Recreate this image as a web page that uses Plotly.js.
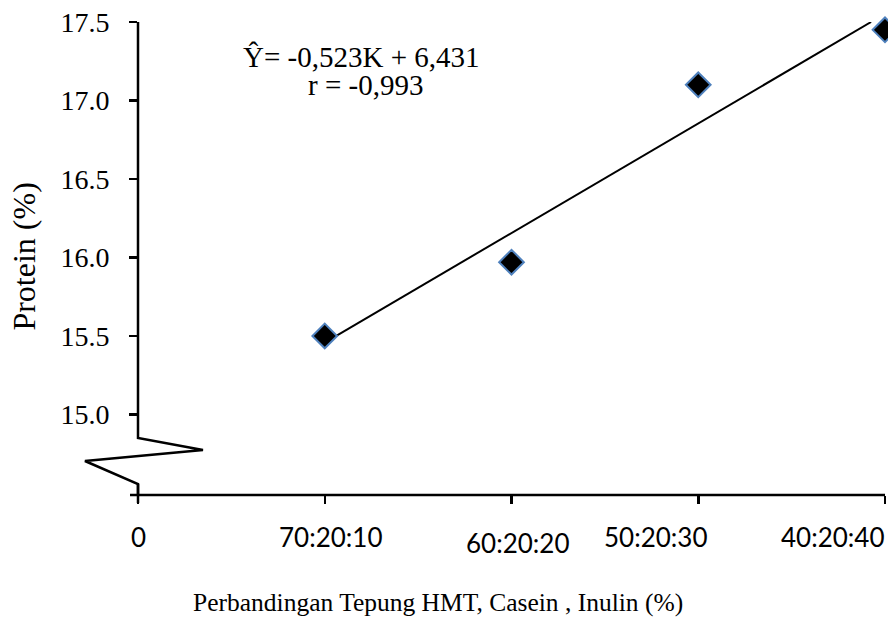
<!DOCTYPE html>
<html>
<head>
<meta charset="utf-8">
<script src="https://cdn.plot.ly/plotly-3.0.1.min.js"></script>
<style>html,body{margin:0;padding:0;background:#fff;}#chart{width:888px;height:617px;}</style>
</head>
<body>
<div id="chart"></div>
<script>
// ---- data ----
const tickLabels = ["0", "70:20:10", "60:20:20", "50:20:30", "40:20:40"];
const xPos = [1, 2, 3, 4];
const protein = [15.50, 15.97, 17.10, 17.45];
const yTicks = [15.0, 15.5, 16.0, 16.5, 17.0, 17.5];
const equationText = "Ŷ= -0,523K + 6,431";
const rText = "r = -0,993";
const xTitle = "Perbandingan Tepung HMT, Casein , Inulin (%)";
const yTitle = "Protein (%)";

// least squares trendline through the data
const n = xPos.length;
const mx = xPos.reduce((a, b) => a + b, 0) / n;
const my = protein.reduce((a, b) => a + b, 0) / n;
let sxy = 0, sxx = 0;
for (let i = 0; i < n; i++) { sxy += (xPos[i] - mx) * (protein[i] - my); sxx += (xPos[i] - mx) ** 2; }
const slope = sxy / sxx, intercept = my - slope * mx;
const yMax = 17.5, yMin = 14.487;
const xEnd = Math.min(xPos[n - 1], (yMax - intercept) / slope);
const trendX = [xPos[0], xEnd];
const trendY = trendX.map(x => intercept + slope * x);

const serif = "Liberation Serif, Times New Roman, serif";
const sans = "Lato, Open Sans, sans-serif";

const traces = [
  { x: trendX, y: trendY, mode: "lines", line: { color: "#000", width: 2 }, hoverinfo: "skip", showlegend: false },
  { x: xPos, y: protein, mode: "markers", cliponaxis: false, showlegend: false,
    marker: { symbol: "diamond", size: 19, color: "#000", line: { color: "#4F81BD", width: 2 } } }
];

// x tick label annotations (manually offset as in the original)
const labelShift = [0, 6, 6, -43, 0];
const labelY = [-0.089, -0.089, -0.102, -0.089, -0.089];
const annotations = tickLabels.map((t, i) => ({
  x: i, xref: "x", y: labelY[i], yref: "paper", text: t, showarrow: false,
  xanchor: i === tickLabels.length - 1 ? "right" : "center", yanchor: "middle",
  xshift: i === tickLabels.length - 1 ? 1 : labelShift[i],
  font: { family: sans, size: 26, color: "#000" }
}));
annotations.push(
  { x: 0.299, y: 0.927, xref: "paper", yref: "paper", text: equationText, showarrow: false,
    xanchor: "center", yanchor: "middle", font: { family: serif, size: 29, color: "#000" } },
  { x: 0.305, y: 0.866, xref: "paper", yref: "paper", text: rText, showarrow: false,
    xanchor: "center", yanchor: "middle", font: { family: serif, size: 29, color: "#000" } },
  { x: 0.401, y: -0.228, xref: "paper", yref: "paper", text: xTitle, showarrow: false,
    xanchor: "center", yanchor: "middle", font: { family: serif, size: 25.5, color: "#000" } },
  { x: -0.152, y: 0.505, xref: "paper", yref: "paper", text: yTitle, showarrow: false, textangle: -90,
    xanchor: "center", yanchor: "middle", font: { family: serif, size: 32, color: "#000" } }
);

const shapes = [
  // y axis with break zigzag
  { type: "path", xref: "paper", yref: "paper",
    path: "M0,1 L0,0.1205 L0.087,0.0951 L-0.071,0.0719 L0,0.0233 L0,0",
    line: { color: "#000", width: 2.5 } },
  // x axis line
  { type: "line", xref: "paper", yref: "paper", x0: -0.0107, x1: 1, y0: 0, y1: 0,
    line: { color: "#000", width: 2.5 } },
  // tick at origin crossing the x axis
  { type: "line", xref: "paper", yref: "paper", x0: 0, x1: 0, y0: 0.0233, y1: -0.017,
    line: { color: "#000", width: 2.5 } }
];

const layout = {
  width: 888, height: 617,
  margin: { l: 138, r: 3, t: 22, b: 122 },
  paper_bgcolor: "#fff", plot_bgcolor: "#fff",
  showlegend: false,
  xaxis: { range: [0, 4], showgrid: false, zeroline: false, showline: false,
    tickmode: "array", tickvals: [0, 1, 2, 3, 4], showticklabels: false,
    ticks: "outside", ticklen: 8, tickwidth: 2.5, tickcolor: "#000" },
  yaxis: { range: [yMin, yMax], showgrid: false, zeroline: false, showline: false,
    tickmode: "array", tickvals: yTicks, ticktext: yTicks.map(v => v.toFixed(1)),
    ticks: "outside", ticklen: 8, tickwidth: 2.5, tickcolor: "#000",
    ticklabelstandoff: 14,
    tickfont: { family: serif, size: 28, color: "#000" } },
  annotations: annotations,
  shapes: shapes
};

Plotly.newPlot("chart", traces, layout, { staticPlot: true });
</script>
</body>
</html>
